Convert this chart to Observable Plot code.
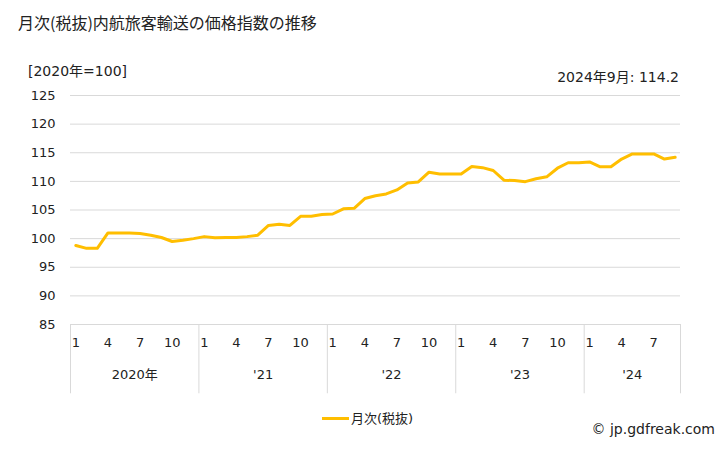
<!DOCTYPE html>
<html>
<head>
<meta charset="utf-8">
<script src="https://cdn.jsdelivr.net/npm/d3@7"></script>
<script src="https://cdn.jsdelivr.net/npm/@observablehq/plot@0.6"></script>
<style>
  html, body { margin: 0; padding: 0; background: #fff; }
  #wrap { position: relative; width: 728px; height: 450px; overflow: hidden;
          font-family: "DejaVu Sans", "Noto Sans CJK JP", sans-serif; color: #222; }
  .t { position: absolute; white-space: nowrap; line-height: 1; }
</style>
</head>
<body>
<div id="wrap">
  <div id="chart"></div>
  <div class="t" style="left:18px; top:14px; font-size:16px; font-family:'Noto Sans CJK JP', sans-serif;">月次(税抜)内航旅客輸送の価格指数の推移</div>
  <div class="t" style="left:28px; top:64px; font-size:14px;">[2020年=100]</div>
  <div class="t" style="right:49px; top:70px; font-size:14px;">2024年9月: 114.2</div>
  <div class="t" style="left:322px; top:412px; font-size:13px; display:flex; align-items:center;">
    <span style="display:inline-block; width:27px; height:3px; background:#FFBE00; margin-right:2px;"></span>月次(税抜)
  </div>
  <div class="t" style="right:13px; top:422px; font-size:14px;">© jp.gdfreak.com</div>
</div>
<script>
const years = ["2020年", "'21", "'22", "'23", "'24"];
const monthsPerYear = [12, 12, 12, 12, 9];
const values2020 = [98.8, 98.3, 98.3, 101.0, 101.0, 101.0, 100.9, 100.6, 100.2, 99.5, 99.7, 100.0];
const values2021 = [100.35, 100.15, 100.2, 100.2, 100.35, 100.6, 102.3, 102.5, 102.3, 103.9, 103.9, 104.2];
const values2022 = [104.3, 105.2, 105.3, 107.0, 107.5, 107.8, 108.5, 109.7, 109.9, 111.6, 111.3, 111.3];
const values2023 = [111.3, 112.6, 112.4, 111.9, 110.2, 110.15, 109.95, 110.45, 110.8, 112.3, 113.25, 113.25];
const values2024 = [113.4, 112.55, 112.55, 113.9, 114.8, 114.8, 114.8, 113.9, 114.2];
const monthTickLabels = [1, 4, 7, 10];
const yTicks = [85, 90, 95, 100, 105, 110, 115, 120, 125];

const allValues = [values2020, values2021, values2022, values2023, values2024];
const data = [];
allValues.forEach((arr, yi) => arr.forEach((v, mi) => data.push({ i: data.length, year: yi, month: mi + 1, value: v })));
const n = data.length;

const monthTicks = data.filter(d => monthTickLabels.includes(d.month));
const yearGroups = [];
let start = 0;
monthsPerYear.forEach((m, yi) => { yearGroups.push({ label: years[yi], start: start - 0.5, end: start + m - 0.5, mid: start + (m - 1) / 2 }); start += m; });
const separators = yearGroups.map(g => g.start).concat([n - 0.5]);

const plot = Plot.plot({
  width: 728,
  height: 450,
  marginLeft: 70,
  marginRight: 48,
  marginTop: 95,
  marginBottom: 126,
  style: { fontFamily: '"DejaVu Sans", "Noto Sans CJK JP", sans-serif', fontSize: "13px", color: "#222", background: "transparent" },
  x: { domain: [-0.5, n - 0.5], axis: null },
  y: { domain: [85, 125], axis: null },
  marks: [
    Plot.ruleY(yTicks, { stroke: "#d9d9d9", strokeWidth: 1 }),
    Plot.ruleX(separators, { x: d => d, y1: 85, y2: 72.9, stroke: "#d9d9d9", strokeWidth: 1, clip: false }),
    Plot.axisY({ ticks: yTicks, tickSize: 0, tickPadding: 15, fontSize: 13, label: null }),
    Plot.text(monthTicks, { x: "i", text: d => String(d.month), frameAnchor: "bottom", dy: 22, fontSize: 13, fill: "#222" }),
    Plot.text(yearGroups, { x: "mid", text: "label", frameAnchor: "bottom", dy: 54, fontSize: 13, fill: "#222" }),
    Plot.line(data, { x: "i", y: "value", stroke: "#FFBE00", strokeWidth: 3, strokeLinejoin: "round" })
  ]
});
document.getElementById("chart").appendChild(plot);
</script>
</body>
</html>
